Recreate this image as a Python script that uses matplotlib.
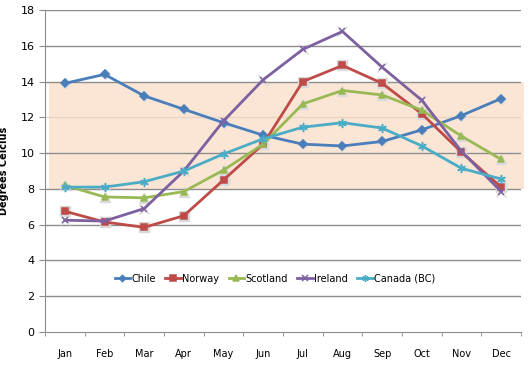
import matplotlib
matplotlib.use("Agg")
import matplotlib.pyplot as plt
import numpy as np

months = ["Jan", "Feb", "Mar", "Apr", "May", "Jun", "Jul", "Aug", "Sep", "Oct", "Nov", "Dec"]
chile = [13.9, 14.4, 13.2, 12.45, 11.7, 11.0, 10.5, 10.4, 10.65, 11.3, 12.1, 13.05]
norway = [6.75, 6.15, 5.85, 6.5, 8.5, 10.5, 14.0, 14.9, 13.9, 12.2, 10.05, 8.1]
scotland = [8.2, 7.55, 7.5, 7.85, 9.05, 10.5, 12.75, 13.5, 13.25, 12.4, 10.95, 9.65]
ireland = [6.25, 6.2, 6.9, 9.0, 11.8, 14.1, 15.8, 16.8, 14.8, 12.95, 10.1, 7.85]
canada = [8.1, 8.1, 8.4, 9.0, 9.95, 10.8, 11.45, 11.7, 11.4, 10.4, 9.15, 8.55]
band = (8, 14)

series = [
    ("Chile", chile, "#4A7EBB", "D", 4),
    ("Norway", norway, "#BE4B48", "s", 5),
    ("Scotland", scotland, "#98B954", "^", 5),
    ("Ireland", ireland, "#7D60A0", "x", 5),
    ("Canada (BC)", canada, "#4BACC6", (6, 2, 0), 6),
]

fig = plt.figure(figsize=(5.32, 3.66), dpi=100)
ax = fig.add_axes([45 / 532, 34 / 366, 476 / 532, 322 / 366])

x = np.arange(len(months))
ax.set_xlim(-0.5, 11.5)
ax.set_ylim(0, 18)

ax.fill_between([-0.4, 11.58], band[0], band[1], color="#FBE6D6", zorder=0.5, clip_on=False, linewidth=0)
for yv in range(2, 19, 2):
    c = "#EAD3C3" if yv == 12 else "#8C8C8C"
    ax.axhline(yv, color=c, linewidth=1, zorder=1)

for name, vals, col, mk, ms in series:
    ax.plot(x, vals, color="#DADADA", linestyle="none", marker=mk, markersize=ms + 1.5,
            markeredgewidth=1.0, zorder=2)
    ax.plot(x, vals, color=col, linewidth=2, marker=mk, markersize=ms,
            markeredgewidth=1.1, markeredgecolor=col, label=name, zorder=3)

ax.set_xticks(x)
ax.set_xticklabels(months, fontsize=7)
ax.tick_params(axis="x", length=0, pad=12)
ax.set_xticks(np.arange(-0.5, 12, 1), minor=True)
ax.tick_params(axis="x", which="minor", length=3, direction="out", color="#8C8C8C")
ax.set_yticks(range(0, 19, 2))
ax.tick_params(axis="y", labelsize=8, length=4, direction="out", color="#8C8C8C")

for s in ["top", "right"]:
    ax.spines[s].set_visible(False)
for s in ["left", "bottom"]:
    ax.spines[s].set_color("#8C8C8C")

ax.set_ylabel("Degrees Celcius", fontsize=7, fontweight="bold", labelpad=8)

leg = ax.legend(loc="center", bbox_to_anchor=(0.483, 0.165), ncol=5, frameon=False,
                fontsize=7, handlelength=1.6, handletextpad=0.1, columnspacing=1.0,
                markerscale=0.8)

fig.savefig("out.png", dpi=100)
